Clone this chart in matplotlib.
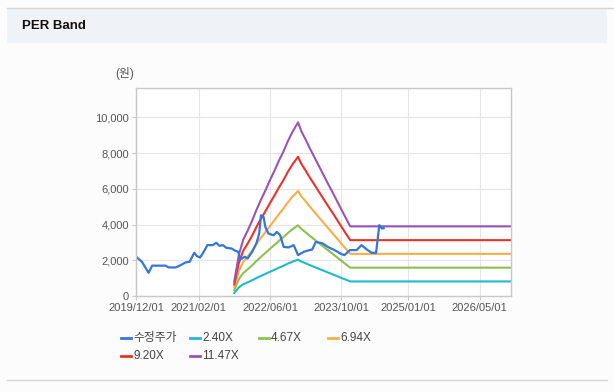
import matplotlib.pyplot as plt
import matplotlib.dates as mdates
import numpy as np
import pandas as pd
from matplotlib.lines import Line2D
from matplotlib.patches import Rectangle
from matplotlib.ticker import FuncFormatter

plt.rcParams['font.family'] = ['Liberation Sans', 'Noto Sans CJK KR', 'DejaVu Sans']

# adjusted share price (수정주가)
price_dates = ['2019-12-01', '2020-01-10', '2020-02-25', '2020-03-20', '2020-06-20',
               '2020-07-10', '2020-08-28', '2020-10-01', '2020-11-03', '2020-12-01',
               '2021-01-01', '2021-01-20', '2021-02-10', '2021-02-28', '2021-04-01',
               '2021-05-07', '2021-06-01', '2021-06-22', '2021-07-16', '2021-08-07',
               '2021-09-13', '2021-10-04', '2021-10-28', '2021-11-12', '2021-12-12',
               '2021-12-31', '2022-02-01', '2022-03-01', '2022-03-20', '2022-04-01',
               '2022-04-19', '2022-05-01', '2022-05-22', '2022-06-25', '2022-07-19',
               '2022-08-10', '2022-09-03', '2022-10-07', '2022-11-10', '2022-12-10',
               '2023-01-19', '2023-02-25', '2023-03-16', '2023-04-10', '2023-05-25',
               '2023-07-01', '2023-08-16', '2023-10-01', '2023-10-22', '2023-11-04',
               '2023-11-28', '2024-01-13', '2024-02-16', '2024-03-22', '2024-04-25',
               '2024-05-25', '2024-06-16', '2024-07-04', '2024-07-16']
price = [2200, 1920, 1300, 1700, 1700, 1600, 1600, 1730, 1880, 1920,
         2420, 2230, 2160, 2380, 2850, 2850, 2980, 2810, 2850, 2700,
         2660, 2550, 2480, 2050, 2200, 2100, 2480, 2950, 3500, 4520,
         4430, 3870, 3500, 3400, 3590, 3400, 2750, 2720, 2850, 2290,
         2480, 2570, 2600, 3030, 2950, 2750, 2570, 2350, 2290, 2380,
         2570, 2570, 2850, 2610, 2420, 2420, 3970, 3780, 3800]

# EPS used for the bands (monthly, from 2021-10)
eps_dates = ['2021-10-01', '2021-11-01', '2021-12-01', '2022-01-01', '2022-02-01',
             '2022-03-01', '2022-04-01', '2022-05-01', '2022-06-01', '2022-07-01',
             '2022-08-01', '2022-09-01', '2022-10-01', '2022-11-01', '2022-12-10',
             '2023-01-01', '2023-02-01', '2023-03-01', '2023-04-01', '2023-05-01',
             '2023-06-01', '2023-07-01', '2023-08-01', '2023-09-01', '2023-10-01',
             '2023-11-01', '2023-12-01', '2026-12-01']
eps = [70, 200, 275, 320, 370, 420, 470, 515, 565, 610,
       660, 705, 755, 800, 848, 805, 762, 720, 677, 635,
       592, 550, 508, 465, 423, 380, 340, 340]

multiples = [2.40, 4.67, 6.94, 9.20, 11.47]
band_labels = ['2.40X', '4.67X', '6.94X', '9.20X', '11.47X']
band_colors = ['#1fbacd', '#8cc152', '#fbae45', '#e8332b', '#9b54b3']
price_color = '#3676d6'

x_ticks = ['2019-12-01', '2021-02-01', '2022-06-01', '2023-10-01', '2025-01-01', '2026-05-01']
x_tick_labels = ['2019/12/01', '2021/02/01', '2022/06/01', '2023/10/01', '2025/01/01', '2026/05/01']
y_ticks = [0, 2000, 4000, 6000, 8000, 10000]

fig = plt.figure(figsize=(6.14, 3.92), dpi=100)
fig.patch.set_facecolor('#fcfcfc')

# header bar and panel borders
fig.add_artist(Rectangle((7 / 614, 1 - 43 / 392), 600 / 614, 35 / 392,
                         transform=fig.transFigure, facecolor='#eff2f7', edgecolor='none'))
fig.add_artist(Line2D([7 / 614, 1], [1 - 7.5 / 392] * 2, transform=fig.transFigure,
                      color='#d6d6d6', lw=1))
fig.add_artist(Line2D([7 / 614, 607 / 614], [1 - 380 / 392] * 2, transform=fig.transFigure,
                      color='#d6d6d6', lw=1))
fig.text(22 / 614, 1 - 26 / 392, 'PER Band', fontsize=9.5, fontweight='bold',
         color='#111111', va='center')

ax = fig.add_axes([136 / 614, 1 - 296 / 392, 375 / 614, 208 / 392])
ax.set_facecolor('white')

ed = pd.to_datetime(eps_dates)
e = np.array(eps)
for m, lab, c in zip(multiples, band_labels, band_colors):
    ax.plot(ed, e * m, color=c, lw=1.5, label=lab)
ax.plot(pd.to_datetime(price_dates), price, color=price_color, lw=1.6, label='수정주가')

ax.set_xlim(pd.Timestamp('2019-12-01'), pd.Timestamp('2026-12-01'))
ax.set_ylim(0, 11650)
ax.set_xticks(pd.to_datetime(x_ticks))
ax.set_xticklabels(x_tick_labels)
ax.set_yticks(y_ticks)
ax.yaxis.set_major_formatter(FuncFormatter(lambda v, p: f'{int(v):,}'))
ax.grid(True, color='#e6e6e6', lw=0.8)
ax.set_axisbelow(True)
for s in ax.spines.values():
    s.set_color('#c8c8c8')
    s.set_linewidth(1)
ax.tick_params(labelsize=8, colors='#c8c8c8', labelcolor='#555555', length=3, pad=2)

fig.text(115 / 614, 1 - 73 / 392, '(원)', fontsize=8.5, color='#555555', va='center')

# legend laid out in a fixed grid like the original
legend_items = [('수정주가', price_color)] + list(zip(band_labels, band_colors))
for i, (lab, c) in enumerate(legend_items):
    col, row = i % 4, i // 4
    x0 = 121 + col * 69
    y0 = 338 + row * 18
    fig.add_artist(Line2D([x0 / 614, (x0 + 10) / 614], [1 - y0 / 392] * 2,
                          transform=fig.transFigure, color=c, lw=2))
    fig.text((x0 + 12) / 614, 1 - y0 / 392, lab, fontsize=8.5, color='#444444', va='center')

fig.savefig('out.png', dpi=100, facecolor=fig.get_facecolor())
